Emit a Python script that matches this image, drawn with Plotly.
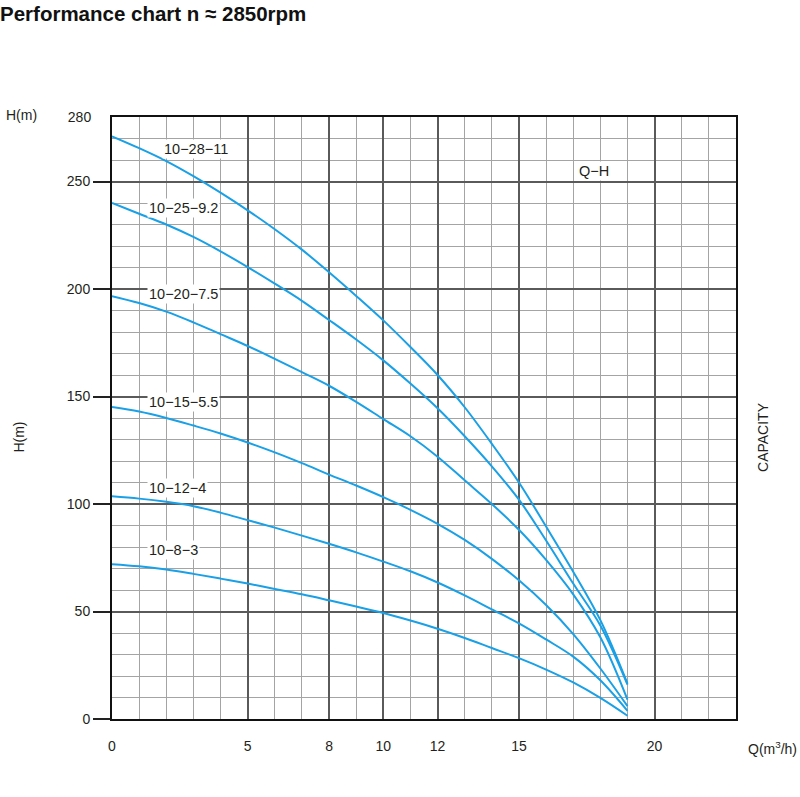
import plotly.graph_objects as go

# ---------------- data ----------------
Q = list(range(0, 20))  # m3/h
models = ["10−28−11", "10−25−9.2", "10−20−7.5", "10−15−5.5", "10−12−4", "10−8−3"]
H_10_28_11 = [271, 265.5, 259.5, 252.5, 244.8, 236.6, 227.8, 218.3, 207.8, 196.8,
              185.4, 173, 160, 145, 128, 110, 89.5, 68.5, 46, 16.5]
H_10_25_9_2 = [240, 235, 230, 224.2, 217.5, 210.2, 202.5, 194.5, 185.6, 176.5,
               166.8, 156, 144.5, 131.5, 117.5, 102, 83, 63, 43.5, 16]
H_10_20_7_5 = [196.7, 193.5, 189.5, 184.5, 179, 173.5, 167.5, 161.3, 155, 147.5,
               139.5, 131.5, 122, 111, 100, 88, 74, 58, 38, 9]
H_10_15_5_5 = [145.1, 143, 140, 136.5, 132.8, 128.6, 124, 119, 113.7, 108.6,
               103.2, 97.3, 90.8, 83.3, 74.5, 64.5, 53, 39.5, 23.5, 6]
H_10_12_4 = [103.6, 102.5, 101, 99, 96, 92.5, 89, 85.3, 81.5, 77.5,
             73.2, 68.7, 63.5, 57.5, 51, 44.5, 37, 29, 18, 3.8]
H_10_8_3 = [72, 71, 69.5, 67.5, 65.3, 63, 60.5, 58, 55.2, 52.3,
            49.3, 45.8, 42, 37.7, 33, 28.3, 23, 17, 9.8, 1.5]
series = [H_10_28_11, H_10_25_9_2, H_10_20_7_5, H_10_15_5_5, H_10_12_4, H_10_8_3]

x_ticks = [0, 5, 8, 10, 12, 15, 20]
y_ticks = [0, 50, 100, 150, 200, 250]
y_top = 280

# ---------------- styling / layout ----------------
FONT = "Liberation Sans, Arial, Helvetica, sans-serif"
TXT = "#231f20"
CURVE = "#19a0e6"
MAJOR = "#5a5a5a"
MINOR = "#a4a4a4"

W, H = 800, 797
L, R, T, B = 111.5, 64, 117, 78
pw, ph = W - L - R, H - T - B

def px2paper(px, py):
    return (px - L) / pw, (H - B - py) / ph

fig = go.Figure()
for name, h in zip(models, series):
    fig.add_trace(go.Scatter(x=Q, y=h, mode="lines", name=name,
                             line=dict(color=CURVE, width=2, shape="spline", smoothing=1.0),
                             showlegend=False, hoverinfo="skip"))

# curve labels (anchor positions in data units)
label_pos = [(1.85, 265.3), (1.30, 237.9), (1.30, 197.9), (1.30, 147.4), (1.30, 107.4), (1.30, 78.5)]
annotations = []
for name, (lx, ly) in zip(models, label_pos):
    annotations.append(dict(x=lx, y=ly, xref="x", yref="y", text=name, showarrow=False,
                            xanchor="left", yanchor="middle", bgcolor="white", borderpad=1,
                            font=dict(family=FONT, size=14.5, color=TXT)))
annotations.append(dict(x=17.15, y=254.9, xref="x", yref="y", text="Q−H", showarrow=False,
                        xanchor="left", yanchor="middle", bgcolor="white", borderpad=1,
                        font=dict(family=FONT, size=14.5, color=TXT)))

def add_px_text(text, px, py, xanchor="left", angle=0, size=14):
    xp, yp = px2paper(px, py)
    annotations.append(dict(x=xp, y=yp, xref="paper", yref="paper", text=text, showarrow=False,
                            xanchor=xanchor, yanchor="middle", textangle=angle,
                            font=dict(family=FONT, size=size, color=TXT)))

add_px_text("H(m)", 3, 115)
add_px_text("H(m)", 18, 437, xanchor="center", angle=-90)
add_px_text("CAPACITY", 763, 437, xanchor="center", angle=-90)
add_px_text("Q(m<sup>3</sup>/h)", 746, 748)

fig.update_layout(
    width=W, height=H,
    margin=dict(l=L, r=R, t=T, b=B),
    paper_bgcolor="white", plot_bgcolor="white",
    font=dict(family=FONT, size=14, color=TXT),
    title=dict(text="<b>Performance chart n ≈ 2850rpm</b>", x=0.0, xanchor="left",
               xref="container", yref="container", y=1 - 14 / H, yanchor="middle",
               font=dict(family=FONT, size=20.5, color="#111111")),
    annotations=annotations,
    xaxis=dict(range=[0, 23], tickmode="array", tickvals=x_ticks,
               ticktext=[str(v) for v in x_ticks],
               ticks="outside", ticklen=13, tickcolor="rgba(0,0,0,0)",
               showgrid=True, gridcolor=MAJOR, gridwidth=1.6,
               minor=dict(tickmode="linear", tick0=0, dtick=1, showgrid=True,
                          gridcolor=MINOR, gridwidth=1, ticks=""),
               showline=True, linecolor="#111111", linewidth=2, mirror=True,
               zeroline=False, tickfont=dict(family=FONT, size=14, color=TXT)),
    yaxis=dict(range=[0, y_top], tickmode="array", tickvals=y_ticks,
               ticks="outside", ticklen=17, tickwidth=2, tickcolor="#222222",
               showgrid=True, gridcolor=MAJOR, gridwidth=1.6,
               minor=dict(tickmode="linear", tick0=0, dtick=10, showgrid=True,
                          gridcolor=MINOR, gridwidth=1, ticks=""),
               showline=True, linecolor="#111111", linewidth=2, mirror=True,
               zeroline=False, tickfont=dict(family=FONT, size=14, color=TXT)),
    yaxis2=dict(range=[0, y_top], overlaying="y", side="left", tickmode="array",
                tickvals=[y_top], ticktext=[str(y_top)], ticks="outside", ticklen=17,
                tickcolor="rgba(0,0,0,0)",
                showgrid=False, zeroline=False, showline=False,
                tickfont=dict(family=FONT, size=14, color=TXT)),
)
# invisible trace that activates the secondary axis carrying the "280" label
fig.add_trace(go.Scatter(x=[0], y=[y_top], yaxis="y2", mode="lines", showlegend=False,
                         hoverinfo="skip", line=dict(width=0)))

fig.write_html("out.html", config={"displayModeBar": False},
               post_script="document.body.style.margin='0';")
